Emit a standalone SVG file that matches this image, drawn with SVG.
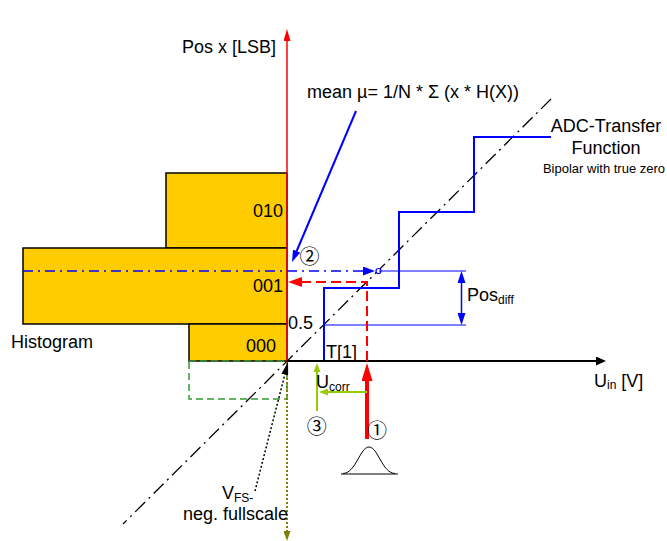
<svg xmlns="http://www.w3.org/2000/svg" width="667" height="541" viewBox="0 0 667 541">
<style>
.t{font-family:"Liberation Sans",Arial,sans-serif;font-size:18px;fill:#000}
.sub{font-size:12px}
.small{font-size:13px}
.circ{font-family:"Noto Sans CJK JP","Noto Sans CJK SC",sans-serif;font-size:20px;fill:#000}
.bar{fill:#FFCC00;stroke:#000;stroke-width:1.5}
</style>
<defs>
<marker id="hRed" viewBox="0 0 10 10" refX="0" refY="5" markerUnits="userSpaceOnUse" markerWidth="12" markerHeight="7" orient="auto" preserveAspectRatio="none"><path d="M0,0 L10,5 L0,10 z" fill="#FF0000"/></marker>
<marker id="hRedDash" viewBox="0 0 10 10" refX="0" refY="5" markerUnits="userSpaceOnUse" markerWidth="14" markerHeight="10" orient="auto" preserveAspectRatio="none"><path d="M0,0 L10,5 L0,10 z" fill="#FF0000"/></marker>
<marker id="hRedBig" viewBox="0 0 10 10" refX="0" refY="5" markerUnits="userSpaceOnUse" markerWidth="18" markerHeight="11" orient="auto" preserveAspectRatio="none"><path d="M0,0 L10,5 L0,10 z" fill="#FF0000"/></marker>
<marker id="hBlack" viewBox="0 0 10 10" refX="0" refY="5" markerUnits="userSpaceOnUse" markerWidth="10" markerHeight="9" orient="auto" preserveAspectRatio="none"><path d="M0,0 L10,5 L0,10 z" fill="#000"/></marker>
<marker id="hBlackS" viewBox="0 0 10 10" refX="0" refY="5" markerUnits="userSpaceOnUse" markerWidth="13" markerHeight="7" orient="auto" preserveAspectRatio="none"><path d="M0,0 L10,5 L0,10 z" fill="#000"/></marker>
<marker id="hBlue" viewBox="0 0 10 10" refX="0" refY="5" markerUnits="userSpaceOnUse" markerWidth="12" markerHeight="8" orient="auto-start-reverse" preserveAspectRatio="none"><path d="M0,0 L10,5 L0,10 z" fill="#0000FF"/></marker>
<marker id="hBlueW" viewBox="0 0 10 10" refX="0" refY="5" markerUnits="userSpaceOnUse" markerWidth="12" markerHeight="9" orient="auto" preserveAspectRatio="none"><path d="M0,0 L10,5 L0,10 z" fill="#0000FF"/></marker>
<marker id="hGreen" viewBox="0 0 10 10" refX="0" refY="5" markerUnits="userSpaceOnUse" markerWidth="9" markerHeight="7" orient="auto" preserveAspectRatio="none"><path d="M0,0 L10,5 L0,10 z" fill="#99CC00"/></marker>
<marker id="hOlive" viewBox="0 0 10 10" refX="0" refY="5" markerUnits="userSpaceOnUse" markerWidth="10" markerHeight="7" orient="auto" preserveAspectRatio="none"><path d="M0,0 L10,5 L0,10 z" fill="#808000"/></marker>
</defs>
<rect width="667" height="541" fill="#fff"/>

<g id="histogram">
  <g id="bin-010"><rect class="bar" x="166" y="173" width="121" height="75"/><text class="t" x="283" y="217" text-anchor="end">010</text></g>
  <g id="bin-001"><rect class="bar" x="23" y="248" width="264" height="76"/><text class="t" x="283" y="292" text-anchor="end">001</text></g>
  <g id="bin-000"><rect class="bar" x="189" y="324" width="98" height="37"/><text class="t" x="276" y="352" text-anchor="end">000</text></g>
  <g id="bin-neg"><rect x="189" y="361" width="98" height="38" fill="none" stroke="#339933" stroke-width="1.5" stroke-dasharray="7,4"/></g>
  <g id="histogram-label"><text class="t" x="11" y="348">Histogram</text></g>
</g>

<g id="ideal-line"><line x1="551" y1="99" x2="123" y2="524" stroke="#000" stroke-width="1.3" stroke-dasharray="14,5,2,5"/></g>

<g id="transfer-function">
  <polyline points="287,361 324,361 324,288 399,288 399,212 474,212 474,137 551,137" fill="none" stroke="#0000FF" stroke-width="2"/>
  <text class="t" x="606" y="132" text-anchor="middle">ADC-Transfer</text>
  <text class="t" x="606" y="154" text-anchor="middle">Function</text>
  <text class="t small" x="604" y="173" text-anchor="middle">Bipolar with true zero</text>
</g>

<g id="gaussian">
  <line x1="341" y1="474" x2="398" y2="474" stroke="#000" stroke-width="1"/>
  <path d="M343,473.5 C356,473 360,447 369,447 C378,447 382,473 395,473.5" fill="none" stroke="#000" stroke-width="1"/>
</g>

<g id="connectors">
  <line id="y-axis" x1="287" y1="361" x2="287" y2="41" stroke="#FF0000" stroke-width="1.5" marker-end="url(#hRed)"/>
  <line id="x-axis" x1="287" y1="361" x2="596" y2="361" stroke="#000" stroke-width="2" marker-end="url(#hBlack)"/>
  <line id="neg-axis" x1="287" y1="362" x2="287" y2="531" stroke="#808000" stroke-width="2" stroke-dasharray="2,2" marker-end="url(#hOlive)"/>
  <line id="mean-line" x1="23" y1="271" x2="363" y2="271" stroke="#0000FF" stroke-width="1.7" stroke-dasharray="10,5,2,5" marker-end="url(#hBlueW)"/>
  <circle cx="378.5" cy="271" r="2.5" fill="#fff" stroke="#0000FF" stroke-width="1.2"/>
  <line x1="379" y1="271" x2="466" y2="271" stroke="#0000FF" stroke-width="1"/>
  <line x1="324" y1="325" x2="466" y2="325" stroke="#0000FF" stroke-width="1"/>
  <line id="pos-diff" x1="461.5" y1="283" x2="461.5" y2="313" stroke="#0000FF" stroke-width="1.5" marker-start="url(#hBlue)" marker-end="url(#hBlue)"/>
  <line id="mean-pointer" x1="356" y1="111" x2="296.7" y2="251" stroke="#0000FF" stroke-width="2" marker-end="url(#hBlue)"/>
  <path id="red-dashed" d="M367,361 L367,282 L302,282" fill="none" stroke="#FF0000" stroke-width="2" stroke-dasharray="10,5" marker-end="url(#hRedDash)"/>
  <line id="input-arrow" x1="367" y1="439" x2="367" y2="381" stroke="#FF0000" stroke-width="4" marker-end="url(#hRedBig)"/>
  <line id="corr-up" x1="317" y1="411" x2="317" y2="372" stroke="#99CC00" stroke-width="2" marker-end="url(#hGreen)"/>
  <line id="corr-left" x1="367" y1="392" x2="328" y2="392" stroke="#99CC00" stroke-width="2" marker-end="url(#hGreen)"/>
  <line id="vfs-pointer" x1="255" y1="491" x2="284.8" y2="374.6" stroke="#000" stroke-width="1.5" stroke-dasharray="2,2" marker-end="url(#hBlackS)"/>
</g>

<g id="labels">
  <text class="t" x="182" y="53">Pos x [LSB]</text>
  <text class="t" x="307" y="98">mean µ= 1/N * Σ (x * H(X))</text>
  <text class="t" x="467" y="301">Pos<tspan class="sub" dy="3">diff</tspan></text>
  <text class="t" x="594" y="387">U<tspan class="sub" dy="2">in</tspan><tspan dy="-2"> [V]</tspan></text>
  <text class="t" x="288" y="329">0.5</text>
  <text class="t" x="326" y="358">T[1]</text>
  <text class="t" x="316" y="388">U<tspan class="sub" dy="3">corr</tspan></text>
  <text class="t" x="222" y="499">V<tspan class="sub" dy="3">FS-</tspan></text>
  <text class="t" x="183" y="520">neg. fullscale</text>
  <text class="circ" x="309.5" y="264" text-anchor="middle">②</text>
  <text class="circ" x="316.7" y="433.5" text-anchor="middle">③</text>
  <text class="circ" x="377" y="437.5" text-anchor="middle">①</text>
</g>
</svg>
